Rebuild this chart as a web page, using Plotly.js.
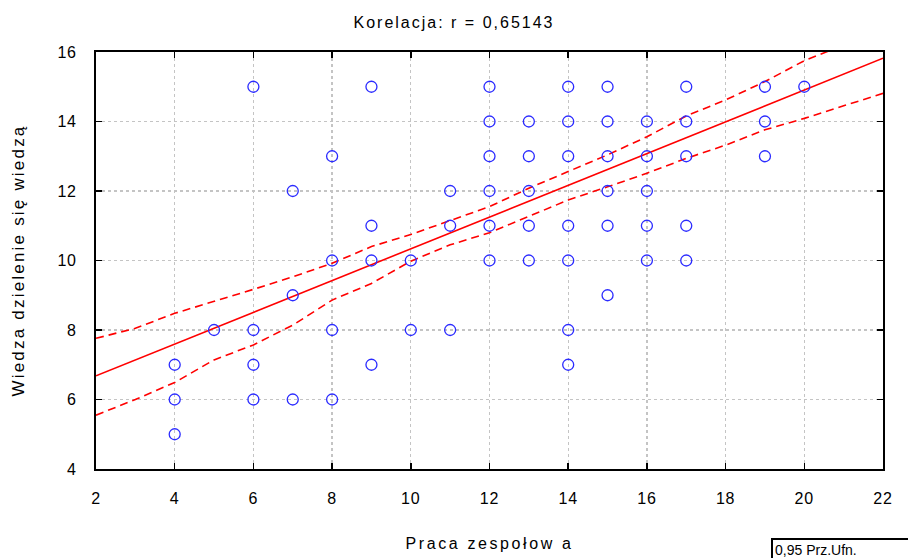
<!DOCTYPE html>
<html>
<head>
<meta charset="utf-8">
<script src="https://cdn.plot.ly/plotly-3.0.1.min.js"></script>
<style>
  html, body { margin: 0; padding: 0; background: #fff; }
  #chart { width: 908px; height: 558px; }
  .gtitle { letter-spacing: 2px; }
  .xtitle { letter-spacing: 2.6px; }
  .ytitle { letter-spacing: 2.2px; }
  .xtick text, .ytick text { letter-spacing: 0.8px; }
</style>
</head>
<body>
<div id="chart"></div>
<script>
// Observed points
const pointsX = [4,4,4,5,6,6,6,6,7,7,7,8,8,8,8,9,9,9,9,10,10,11,11,11,
  12,12,12,12,12,12,13,13,13,13,13,14,14,14,14,14,14,14,
  15,15,15,15,15,15,16,16,16,16,16,17,17,17,17,17,19,19,19,20];
const pointsY = [7,6,5,8,15,8,7,6,12,9,6,13,10,8,6,15,11,10,7,10,8,12,11,8,
  15,14,13,12,11,10,14,13,12,11,10,15,14,13,11,10,8,7,
  15,14,13,12,11,9,14,13,12,11,10,15,14,13,11,10,15,14,13,15];

// Regression line
const lineX = [2, 22];
const lineY = [6.68, 15.82];

// 0,95 confidence band
const bandX = [2,3,4,5,6,7,8,9,10,11,12,13,14,15,16,17,18,19,20,21,22];
const bandUpper = [7.76,8.05,8.48,8.82,9.17,9.53,9.92,10.4,10.75,11.15,11.55,12.08,12.56,13.04,13.56,14.16,14.62,15.15,15.75,16.2,16.6];
const bandLower = [5.55,6.0,6.49,7.14,7.57,8.14,8.86,9.34,9.98,10.45,10.80,11.26,11.74,12.12,12.51,12.94,13.32,13.76,14.09,14.45,14.81];

const titleText = 'Korelacja: r = 0,65143';
const xTitle = 'Praca zespołow a';
const yTitle = 'Wiedza dzielenie się wiedzą';
const legendText = '0,95 Prz.Ufn.';

const red = '#ff0000';
const dashPat = '8px,5px';

const traces = [
  { x: bandX, y: bandUpper, mode: 'lines', line: { color: red, width: 1.6, dash: dashPat }, hoverinfo: 'skip' },
  { x: bandX, y: bandLower, mode: 'lines', line: { color: red, width: 1.6, dash: dashPat }, hoverinfo: 'skip' },
  { x: lineX, y: lineY, mode: 'lines', line: { color: red, width: 1.6 } },
  { x: pointsX, y: pointsY, mode: 'markers', cliponaxis: false,
    marker: { symbol: 'circle-open', size: 11, color: '#2b2bff', line: { width: 1.3, color: '#2b2bff' } } }
];

const font = { family: 'Liberation Sans, Arial, sans-serif', color: '#000' };

const axisCommon = {
  showline: true, linecolor: '#000', linewidth: 2, mirror: 'ticks',
  ticks: 'inside', ticklen: 6, tickwidth: 1.5, tickcolor: '#000',
  showgrid: true, gridcolor: '#c4c4c4', gridwidth: 1.3, griddash: 'dot',
  zeroline: false, dtick: 2, tickfont: { family: font.family, size: 16, color: '#000' }
};

const layout = {
  width: 908, height: 558,
  margin: { l: 96, r: 25, t: 52, b: 89 },
  paper_bgcolor: '#fff', plot_bgcolor: '#fff',
  showlegend: false,
  font: font,
  title: { text: titleText, x: 0.5, xanchor: 'center', y: 0.96, yanchor: 'middle', font: { family: font.family, size: 16, color: '#000' } },
  xaxis: Object.assign({}, axisCommon, {
    range: [2, 22], tick0: 2, ticklabelstandoff: 14,
    title: { text: xTitle, standoff: 32, font: { family: font.family, size: 16, color: '#000' } }
  }),
  yaxis: Object.assign({}, axisCommon, {
    range: [4, 16], tick0: 4, ticklabelstandoff: 14,
    title: { text: yTitle, standoff: 28, font: { family: font.family, size: 17, color: '#000' } }
  }),
  annotations: [{
    xref: 'paper', yref: 'paper', x: (771 - 96) / 787, y: (469 - 538) / 417,
    xanchor: 'left', yanchor: 'top', showarrow: false, align: 'left', valign: 'top',
    width: 160, height: 26,
    text: legendText, font: { family: font.family, size: 14, color: '#000' },
    bordercolor: '#000', borderwidth: 2, borderpad: 2, bgcolor: '#fff'
  }]
};

Plotly.newPlot('chart', traces, layout, { staticPlot: true, displayModeBar: false });
</script>
</body>
</html>
